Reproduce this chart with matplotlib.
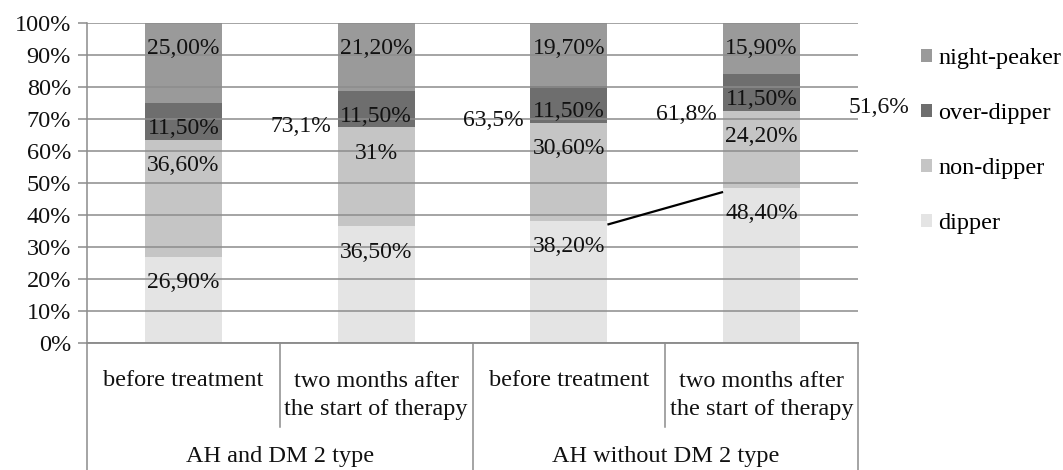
import numpy as np
import matplotlib
matplotlib.use('Agg')
import matplotlib.pyplot as plt
import matplotlib.transforms as mtransforms

# data
categories = ['before treatment', 'two months after\nthe start of therapy',
              'before treatment', 'two months after\nthe start of therapy']
groups = ['AH and DM 2 type', 'AH without DM 2 type']
series = ['dipper', 'non-dipper', 'over-dipper', 'night-peaker']
dipper = [26.9, 36.5, 38.2, 48.4]
non_dipper = [36.6, 31.0, 30.6, 24.2]
over_dipper = [11.5, 11.5, 11.5, 11.5]
night_peaker = [25.0, 21.2, 19.7, 15.9]
dipper_lbl = ['26,90%', '36,50%', '38,20%', '48,40%']
non_dipper_lbl = ['36,60%', '31%', '30,60%', '24,20%']
over_dipper_lbl = ['11,50%', '11,50%', '11,50%', '11,50%']
night_peaker_lbl = ['25,00%', '21,20%', '19,70%', '15,90%']

colors = ['#e4e4e4', '#c5c5c5', '#6e6e6e', '#9a9a9a']
gridc = '#8c8c8c'
txtc = '#111111'
fs = 17.5
fs_bar = 17

plt.rcParams['font.family'] = ['Liberation Serif', 'DejaVu Serif']

fig = plt.figure(figsize=(10.63, 4.70), dpi=100)
ax = fig.add_axes([87/1063, 1-343/470, 771/1063, 320/470])

vals = np.array([dipper, non_dipper, over_dipper, night_peaker], dtype=float)
lbls = [dipper_lbl, non_dipper_lbl, over_dipper_lbl, night_peaker_lbl]
# 100% stacked -> normalise each column
vals = vals / vals.sum(axis=0) * 100
x = np.arange(len(categories))
bottom = np.zeros(len(categories))
handles = []
for k in range(len(series)):
    b = ax.bar(x, vals[k], 0.4, bottom=bottom, color=colors[k], zorder=1,
               label=series[k])
    handles.append(b)
    top = bottom + vals[k]
    for i in range(len(x)):
        ax.text(x[i], top[i] - 8, lbls[k][i], ha='center', va='center',
                fontsize=fs_bar, color=txtc, zorder=5)
    bottom = top

# share of non-dippers overall (100 - dipper)
for i in range(len(x)):
    s = f'{100 - dipper[i]:.1f}'.replace('.', ',') + '%'
    ax.text(x[i] + 0.61, 67.5 + 2*i, s, ha='center', va='center',
            fontsize=fs_bar, color=txtc, zorder=5)

# line between dipper tops of the last two bars
ax.plot([2.2, 2.8], [dipper[2] - 1.2, dipper[3] - 1.2], color='black', lw=1.6,
        zorder=6, solid_capstyle='butt')

ax.set_xlim(-0.5, 3.5)
ax.set_ylim(0, 100)
ax.set_yticks(np.arange(0, 101, 10))
ax.set_yticklabels([f'{v}%' for v in range(0, 101, 10)], fontsize=fs, color=txtc)
ax.tick_params(axis='y', length=6.5, width=1.1, color=gridc, pad=5)
ax.set_xticks([])
ax.set_axisbelow(False)
ax.yaxis.grid(True, color=gridc, lw=1.1, zorder=3)
for sp in ['top', 'right']:
    ax.spines[sp].set_visible(False)
ax.spines['left'].set_color(gridc)
ax.spines['left'].set_linewidth(1.1)
ax.spines['bottom'].set_color(gridc)
ax.spines['bottom'].set_linewidth(1.1)

# category axis drawn as a table below the plot
tr = mtransforms.blended_transform_factory(ax.transData, ax.transAxes)
for xb in [-0.5, 1.5, 3.5]:
    ax.plot([xb, xb], [0, -0.40], color=gridc, lw=1.1, transform=tr, clip_on=False)
for xb in [0.5, 2.5]:
    ax.plot([xb, xb], [0, -0.2625], color=gridc, lw=1.1, transform=tr, clip_on=False)
ax.plot([-0.5, 3.5], [0, 0], color=gridc, lw=1.1, transform=tr, clip_on=False)
for i, c in enumerate(categories):
    yy = -0.116 if '\n' not in c else -0.163
    ax.text(x[i], yy, c, transform=tr, ha='center', va='center', fontsize=fs,
            color=txtc, linespacing=1.45)
for g, name in enumerate(groups):
    ax.text(2*g + 0.5, -0.356, name, transform=tr, ha='center', va='center',
            fontsize=fs, color=txtc)

fig.legend(handles[::-1], series[::-1], loc='upper left',
           bbox_to_anchor=(921/1063, 1-48/470), frameon=False, fontsize=fs,
           handlelength=0.45, handleheight=0.45, handletextpad=0.25,
           labelspacing=1.4, borderpad=0, borderaxespad=0)

fig.savefig('out.png', dpi=100)
